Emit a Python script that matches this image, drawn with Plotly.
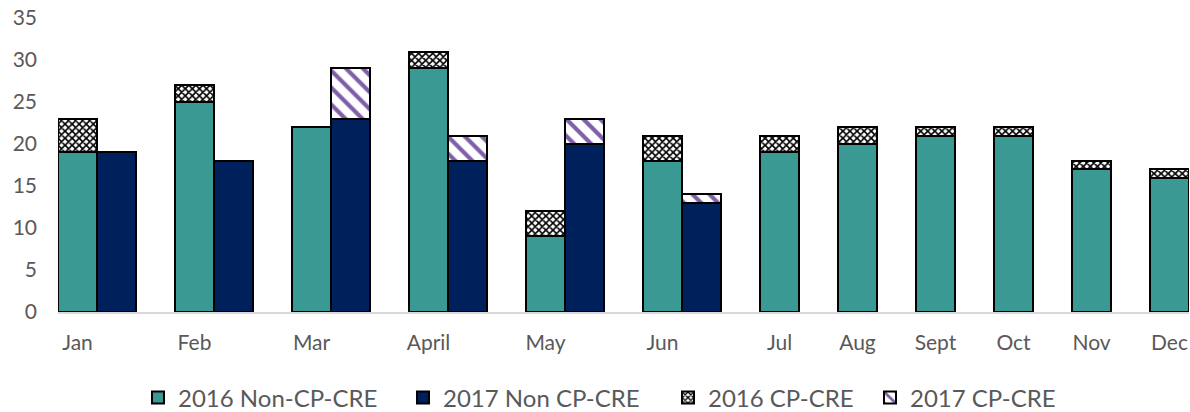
import plotly.graph_objects as go

months = ["Jan", "Feb", "Mar", "April", "May", "Jun", "Jul", "Aug", "Sept", "Oct", "Nov", "Dec"]
non_cp_2016 = [19, 25, 22, 29, 9, 18, 19, 20, 21, 21, 17, 16]
cp_2016 = [4, 2, 0, 2, 3, 3, 2, 2, 1, 1, 1, 1]
non_cp_2017 = [19, 18, 23, 18, 20, 13]
cp_2017 = [0, 0, 6, 3, 3, 1]
series_names = ["2016 Non-CP-CRE", "2017 Non CP-CRE", "2016 CP-CRE", "2017 CP-CRE"]

# slot layout: first six months have room for two bars, the rest one
def slot(i):
    return 3 * i if i < 6 else 18 + 2 * (i - 6)

x16 = [slot(i) for i in range(len(months))]
x17 = [slot(i) + 1 for i in range(len(non_cp_2017))]

FONT = "Lato"
edge = dict(color="black", width=2)
L, R, T, B = 58, 1, 18, 100
W, H = 1190, 412
plot_w = W - L - R

fig = go.Figure()
fig.add_trace(go.Bar(x=x16, y=non_cp_2016, name=series_names[0], legend="legend",
                     marker=dict(color="#3A9A93", line=edge), width=1))
fig.add_trace(go.Bar(x=x17, y=non_cp_2017, name=series_names[1], legend="legend2",
                     marker=dict(color="#00205B", line=edge), width=1))
fig.add_trace(go.Bar(x=x16, y=cp_2016, name=series_names[2], legend="legend3",
                     marker=dict(color="white", line=edge,
                                 pattern=dict(shape="x", fgcolor="black", bgcolor="white",
                                              size=5, solidity=0.55, fillmode="overlay",
                                              fgopacity=1)),
                     width=1))
fig.add_trace(go.Bar(x=x17, y=cp_2017, name=series_names[3], legend="legend4",
                     marker=dict(color="white", line=edge,
                                 pattern=dict(shape="\\", fgcolor="#7F5FA8", bgcolor="white",
                                              size=12, solidity=0.35, fillmode="overlay",
                                              fgopacity=1)),
                     width=1))

# legend text start positions (pixels) taken from the reference layout
text_starts = [178, 443, 708, 910]
legends = {}
for k, xs in enumerate(text_starts):
    key = "legend" if k == 0 else f"legend{k + 1}"
    legends[key] = dict(orientation="h", x=(xs - 40 - L) / plot_w, xanchor="left",
                        y=-(398 - (H - B)) / (H - T - B), yanchor="middle",
                        font=dict(size=24, color="#595959"), bgcolor="rgba(0,0,0,0)")

fig.update_layout(
    width=W, height=H,
    barmode="stack", bargap=0,
    plot_bgcolor="white", paper_bgcolor="white",
    margin=dict(l=L, r=R, t=T, b=B, autoexpand=False),
    font=dict(family=FONT, color="#595959", size=21),
    showlegend=True,
    xaxis=dict(range=[-0.5, 28.5], tickmode="array", tickvals=x16, ticktext=months,
               showgrid=False, zeroline=False, showline=True, linecolor="#D9D9D9",
               linewidth=1.5, ticks="", ticklabelstandoff=11, automargin=False),
    yaxis=dict(range=[0, 35], dtick=5, showgrid=False, zeroline=False, showline=False,
               ticks="", ticklabelstandoff=20, automargin=False),
    **legends,
)

fig.write_html("out.html", config={"displayModeBar": False},
               post_script="document.body.style.margin='0';")
